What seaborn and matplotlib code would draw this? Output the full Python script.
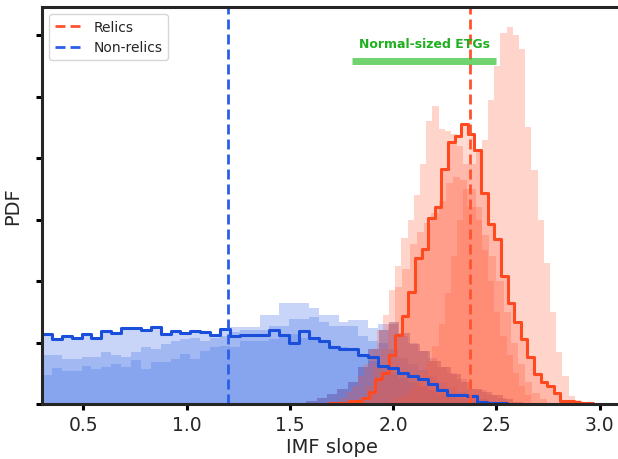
import numpy as np
import pandas as pd
import matplotlib
matplotlib.use("Agg")
import matplotlib.pyplot as plt
import seaborn as sns

# ---------------------------------------------------------------------------
# data (PDF units)
# ---------------------------------------------------------------------------
# combined non-relic posterior (step outline), bins from 0.30 to 2.55
nonrelic_start, nonrelic_stop = 0.30, 2.55
nonrelic_step = [1.14, 1.05, 1.10, 1.07, 1.14, 1.07, 1.19, 1.16, 1.24, 1.23,
                 1.20, 1.25, 1.14, 1.18, 1.16, 1.19, 1.17, 1.12, 1.22, 1.10,
                 1.12, 1.12, 1.13, 1.21, 1.12, 0.99, 1.19, 1.08, 1.03, 0.93,
                 0.89, 0.89, 0.80, 0.76, 0.61, 0.58, 0.50, 0.46, 0.41, 0.33,
                 0.23, 0.15, 0.15, 0.125, 0.04, 0.02, 0.02]

# individual non-relic posteriors, same bins
nonrelic_a = [1.14, 1.05, 1.10, 1.07, 1.14, 1.07, 1.19, 1.16, 1.24, 1.23,
              1.20, 1.25, 1.14, 1.18, 1.16, 1.19, 1.17, 1.12, 1.22, 1.25,
              1.25, 1.25, 1.45, 1.45, 1.64, 1.64, 1.64, 1.57, 1.45, 1.45,
              1.33, 1.36, 1.36, 1.23, 1.30, 1.30, 1.10, 1.00, 0.87, 0.75,
              0.60, 0.50, 0.40, 0.25, 0.22, 0.15, 0.10]
nonrelic_b = [0.80, 0.79, 0.73, 0.73, 0.77, 0.77, 0.85, 0.80, 0.76, 0.84,
              0.92, 0.89, 0.97, 1.03, 1.06, 1.07, 1.03, 1.07, 1.11, 1.17,
              1.20, 1.20, 1.20, 1.27, 1.27, 1.39, 1.39, 1.41, 1.33, 1.27,
              1.27, 1.27, 1.11, 1.03, 1.00, 0.90, 0.75, 0.65, 0.55, 0.45,
              0.35, 0.28, 0.20, 0.12, 0.08, 0.05, 0.03]
nonrelic_c = [0.47, 0.58, 0.54, 0.54, 0.61, 0.57, 0.60, 0.65, 0.60, 0.71,
              0.57, 0.68, 0.68, 0.73, 0.81, 0.73, 0.87, 0.92, 0.95, 0.92,
              1.03, 1.03, 1.03, 1.05, 1.10, 1.14, 1.08, 1.05, 1.03, 0.93,
              0.93, 0.90, 0.79, 0.70, 0.60, 0.50, 0.42, 0.35, 0.30, 0.22,
              0.16, 0.12, 0.08, 0.05, 0.03, 0.02, 0.01]

# combined relic posterior (step outline), bins from 1.69 to 2.97
relic_start, relic_stop = 1.69, 2.97
relic_step = [0.02, 0.02, 0.02, 0.05, 0.05, 0.10, 0.20, 0.40, 0.50, 0.80,
              1.12, 1.43, 1.83, 2.38, 2.53, 3.02, 3.21, 3.82, 4.27, 4.36,
              4.56, 4.39, 4.13, 3.44, 2.93, 2.68, 2.08, 1.65, 1.33, 1.05,
              0.76, 0.49, 0.35, 0.29, 0.18, 0.05, 0.05, 0.03, 0.01, 0.01]

# individual relic posteriors: (first bin edge, bin width, heights)
relic_a = (1.53, 0.05, [0.02, 0.05, 0.10, 0.16, 0.25, 0.36, 0.60, 0.90, 1.20, 1.33,
                        1.15, 0.98, 0.87, 0.70, 0.60, 0.48, 0.35, 0.25, 0.20, 0.15,
                        0.08, 0.03])
relic_b = (1.74, 0.03, [0.10, 0.20, 0.30, 0.45, 0.65, 0.90, 1.20, 1.45, 1.85, 2.25,
                        2.70, 3.00, 3.40, 3.90, 4.60, 4.85, 4.47, 4.45, 4.40, 4.20,
                        3.90, 3.50, 3.00, 2.50, 2.00, 1.50, 1.10, 0.80, 0.50, 0.30,
                        0.15])
relic_c = (1.98, 0.03, [0.05, 0.10, 0.15, 0.25, 0.35, 0.50, 0.70, 0.95, 1.30, 1.80,
                        2.40, 3.00, 3.50, 3.90, 4.10, 4.30, 4.95, 5.50, 6.04, 6.14,
                        6.00, 5.77, 4.50, 3.80, 3.00, 2.30, 1.50, 0.85, 0.45, 0.13,
                        0.06, 0.03])
relic_d = (1.87, 0.035, [0.30, 0.60, 0.90, 1.30, 1.90, 2.20, 2.60, 2.80, 2.95, 3.10,
                         3.30, 3.60, 3.70, 3.65, 3.20, 3.20, 2.75, 2.40, 2.00, 1.50,
                         1.00, 0.65, 0.35, 0.18, 0.08])

relic_median = 2.37
nonrelic_median = 1.20
etg_range = [1.80, 2.50]
etg_level = 5.585
etg_label = "Normal-sized ETGs"

BLUE_FILL = "#4B76E8"
BLUE_LINE = "#1A4FDC"
BLUE_DASH = "#2B5EE8"
RED_FILL = "#FF5733"
RED_LINE = "#FF4A1F"
RED_DASH = "#FF5330"
PURPLE = "#5E4496"
GREEN = "#2DBE2D"


def hist_from(ax, edges, heights, **kw):
    edges = np.asarray(edges, dtype=float)
    centers = 0.5 * (edges[:-1] + edges[1:])
    df = pd.DataFrame({"x": centers, "w": np.asarray(heights, dtype=float)})
    sns.histplot(data=df, x="x", weights="w", bins=list(edges), ax=ax, **kw)


def main() -> None:
    sns.set_style("ticks")
    plt.rcParams["font.family"] = ["DejaVu Sans"]
    plt.rcParams["axes.linewidth"] = 2.2

    fig = plt.figure(figsize=(6.18, 4.60), dpi=100)
    ax = fig.add_axes([0.068, 0.1196, 0.937, 0.863])

    # non-relic individual posteriors
    blue_edges = np.linspace(nonrelic_start, nonrelic_stop, len(nonrelic_step) + 1)
    for h in (nonrelic_a, nonrelic_b, nonrelic_c):
        hist_from(ax, blue_edges, h, element="bars", fill=True,
                  color=BLUE_FILL, alpha=0.3, linewidth=0)

    # broad, low relic posterior: where it lies on the blue it reads purple
    start, width, h = relic_a
    edges = start + width * np.arange(len(h) + 1)
    hist_from(ax, edges, h, element="bars", fill=True,
              color=PURPLE, alpha=0.42, linewidth=0)

    # relic individual posteriors + combined relic fill
    for start, width, h in (relic_b, relic_c, relic_d):
        edges = start + width * np.arange(len(h) + 1)
        hist_from(ax, edges, h, element="bars", fill=True,
                  color=RED_FILL, alpha=0.25, linewidth=0)
    red_edges = np.linspace(relic_start, relic_stop, len(relic_step) + 1)
    hist_from(ax, red_edges, relic_step, element="bars", fill=True,
              color=RED_FILL, alpha=0.22, linewidth=0)

    # combined outlines
    hist_from(ax, red_edges, relic_step, element="step", fill=False,
              color=RED_LINE, linewidth=2.2)
    hist_from(ax, blue_edges, nonrelic_step, element="step", fill=False,
              color=BLUE_LINE, linewidth=2.2)

    ax.axvline(relic_median, color=RED_DASH, lw=2.0, ls=(0, (3.6, 1.8)),
               label="Relics")
    ax.axvline(nonrelic_median, color=BLUE_DASH, lw=2.0, ls=(0, (3.6, 1.8)),
               label="Non-relics")

    ax.plot(etg_range, [etg_level, etg_level], color=GREEN, alpha=0.68, lw=5,
            solid_capstyle="butt")
    ax.text(np.mean(etg_range), 5.87, etg_label, color="#1FAF1F",
            fontsize=9, fontweight="bold", ha="center", va="center")

    ax.set_xlim(0.30, 3.104)
    ax.set_ylim(0, 6.46)
    ax.set_xticks([0.5, 1.0, 1.5, 2.0, 2.5, 3.0])
    ax.set_yticks(range(7))
    ax.set_yticklabels([])
    ax.tick_params(axis="both", direction="out", length=4.5, width=2.2,
                   labelsize=13.5, color="black")
    ax.set_xlabel("IMF slope", fontsize=14, labelpad=2)
    ax.set_ylabel("PDF", fontsize=14, labelpad=6)
    for side in ("top", "left", "bottom"):
        ax.spines[side].set_visible(True)
    ax.spines["right"].set_visible(False)

    ax.legend(loc="upper left", fontsize=10, frameon=True,
              borderaxespad=0.5, handlelength=2.0)

    fig.savefig("out.png", dpi=100)
    plt.close(fig)


if __name__ == "__main__":
    main()
